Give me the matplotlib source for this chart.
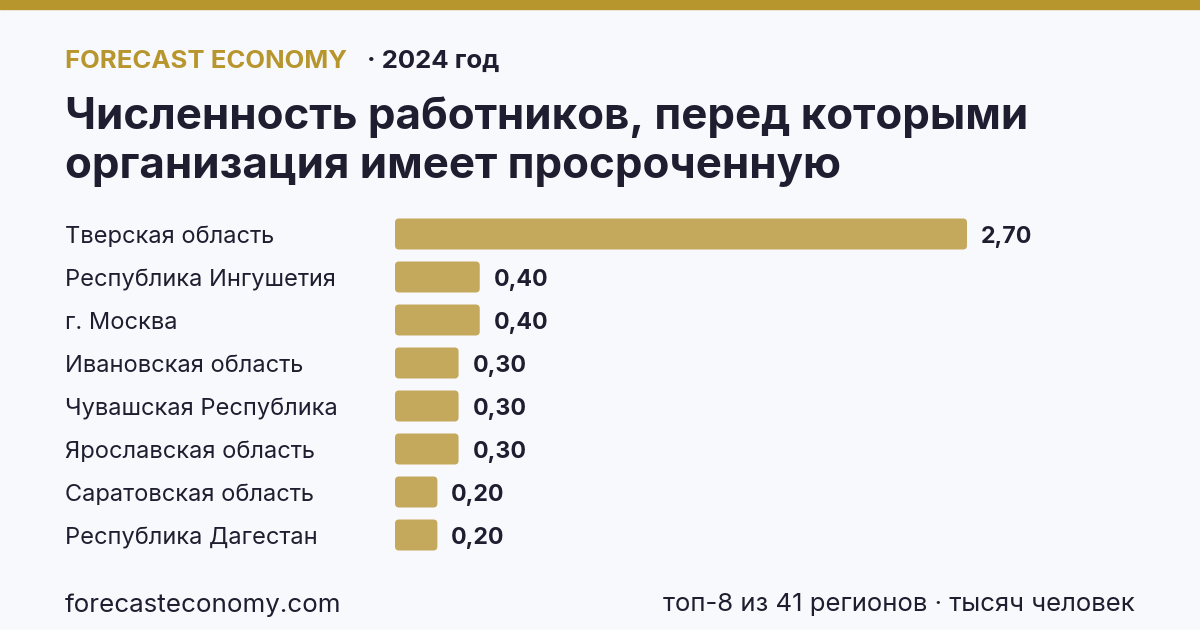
import matplotlib
matplotlib.use("Agg")
import matplotlib.pyplot as plt
from matplotlib.patches import FancyBboxPatch, Rectangle

regions = ["Тверская область", "Республика Ингушетия", "г. Москва",
           "Ивановская область", "Чувашская Республика", "Ярославская область",
           "Саратовская область", "Республика Дагестан"]
values = [2.70, 0.40, 0.40, 0.30, 0.30, 0.30, 0.20, 0.20]

W, H = 1200, 630
bg = "#F8F9FC"
gold = "#B8962E"
bar_col = "#C4A85C"
dark = "#1E1E30"

plt.rcParams['font.family'] = ['Inter', 'DejaVu Sans']

fig = plt.figure(figsize=(W / 100, H / 100), dpi=100, facecolor=bg)

def fx(px):
    return px / W

def fy(py):
    return 1 - py / H

# gold band on top
fig.patches.append(Rectangle((0, fy(9)), 1, 9 / H, transform=fig.transFigure,
                             color=gold, zorder=5))

fig.text(fx(65), fy(61), "FORECAST ECONOMY", color=gold, fontsize=18.5,
         fontweight="bold", va="center", ha="left")
fig.text(fx(367), fy(61), "· 2024 год", color=dark, fontsize=18.5,
         fontweight="bold", va="center", ha="left")

fig.text(fx(65), fy(117), "Численность работников, перед которыми",
         color=dark, fontsize=31.6, fontweight="bold", va="center", ha="left")
fig.text(fx(65), fy(167), "организация имеет просроченную",
         color=dark, fontsize=31.6, fontweight="bold", va="center", ha="left")

# bars area
x0, x1 = 395, 1135
top, bottom = 212.5, 556.5
ax = fig.add_axes([fx(x0), fy(bottom), (x1 - x0) / W, (bottom - top) / H])
ax.set_facecolor("none")
px_per_unit = 572 / 2.70
ax.set_xlim(0, (x1 - x0) / px_per_unit)
ax.set_ylim(len(values) - 0.5, -0.5)
ax.axis("off")

row_px = (bottom - top) / len(values)
bh = 31 / row_px
r = 4 / px_per_unit
for i, (name, v) in enumerate(zip(regions, values)):
    p = FancyBboxPatch((0, i - bh / 2), v, bh,
                       boxstyle=f"round,pad=0,rounding_size={r}",
                       mutation_aspect=px_per_unit / row_px,
                       facecolor=bar_col, edgecolor="none")
    ax.add_patch(p)
    ax.annotate(f"{v:.2f}".replace(".", ","), (v, i), xytext=(10, -2),
                textcoords="offset points", va="center", ha="left",
                fontsize=16.7, fontweight="bold", color=dark)
    fig.text(fx(65), fy(top + row_px * (i + 0.5) + 3), name, color=dark,
             fontsize=17, va="center", ha="left")

fig.text(fx(65), fy(605), "forecasteconomy.com", color=dark, fontsize=18.7,
         va="center", ha="left")
fig.text(fx(1135), fy(605), "топ-8 из 41 регионов · тысяч человек", color=dark,
         fontsize=18.5, va="center", ha="right")

fig.savefig("out.png", dpi=100, facecolor=bg)
